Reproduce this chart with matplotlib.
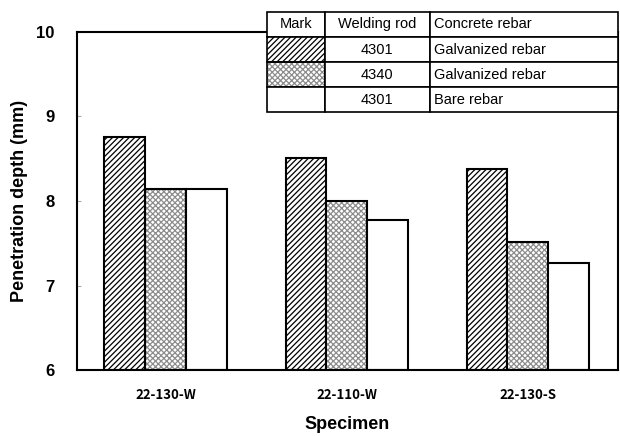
import numpy as np
import matplotlib.pyplot as plt
from matplotlib.patches import Rectangle

specimens = ['22-130-W', '22-110-W', '22-130-S']
rod_4301_galv = [8.76, 8.51, 8.38]
rod_4340_galv = [8.14, 8.00, 7.52]
rod_4301_bare = [8.14, 7.78, 7.27]

table_rows = [['Mark', 'Welding rod', 'Concrete rebar'],
              ['', '4301', 'Galvanized rebar'],
              ['', '4340', 'Galvanized rebar'],
              ['', '4301', 'Bare rebar']]

plt.rcParams['font.family'] = ['Liberation Sans', 'DejaVu Sans']
plt.rcParams['hatch.linewidth'] = 0.9

fig = plt.figure(figsize=(6.2, 4.36), dpi=100)
ax = fig.add_axes([0.124, 0.151, 0.873, 0.776])

slash = '//////'
cross = 'xxxxxx'
grey = '#8c8c8c'

x = np.arange(len(specimens))
w = 0.225
ax.bar(x - w, np.array(rod_4301_galv) - 6, w, bottom=6, color='white',
       edgecolor='black', hatch=slash, linewidth=1.5)
# grey crosshatch, then black outline on top
ax.bar(x, np.array(rod_4340_galv) - 6, w, bottom=6, color='white',
       edgecolor=grey, hatch=cross, linewidth=0)
ax.bar(x, np.array(rod_4340_galv) - 6, w, bottom=6, color='none',
       edgecolor='black', linewidth=1.5)
ax.bar(x + w, np.array(rod_4301_bare) - 6, w, bottom=6, color='white',
       edgecolor='black', linewidth=1.5)

ax.set_ylim(6, 10)
ax.set_xlim(-0.49, 2.5)
ax.set_yticks([6, 7, 8, 9, 10])
ax.set_yticklabels(['6', '7', '8', '9', '10'], fontsize=12, fontweight='bold')
ax.set_xticks(x)
ax.set_xticklabels(specimens, fontsize=9.5, fontweight='bold',
                   family=['Noto Sans CJK KR', 'DejaVu Sans'])
ax.tick_params(axis='x', length=0, pad=13)
ax.tick_params(axis='y', length=3, direction='in', pad=16, color='#aaaaaa')
for s in ax.spines.values():
    s.set_linewidth(1.5)

ax.set_ylabel('Penetration depth (mm)', fontsize=13, fontweight='bold', labelpad=6)
ax.set_xlabel('Specimen', fontsize=13, fontweight='bold', labelpad=10)

tb = [0.351, 0.762, 0.649, 0.297]
cw = [0.165, 0.299, 0.536]
tbl = ax.table(cellText=table_rows, colWidths=cw, bbox=tb, zorder=5)
tbl.auto_set_font_size(False)
tbl.set_fontsize(10.5)
for (r, c), cell in tbl.get_celld().items():
    cell.set_linewidth(1.2)
    cell.set_facecolor('white')
    cell.get_text().set_ha('left' if c == 2 else 'center')
    if c == 2:
        cell.PAD = 0.02
tbl[1, 0].set_hatch(slash)
tbl[2, 0].set_facecolor('none')
tbl[0, 0].get_text().set_ha('center')

# grey crosshatch behind the second mark cell
rh = tb[3] / 4
cell_w = tb[2] * cw[0] / sum(cw)
ax.add_patch(Rectangle((tb[0], tb[1] + rh), cell_w, rh, transform=ax.transAxes,
                       facecolor='white', edgecolor=grey, hatch=cross,
                       linewidth=0, zorder=4.5, clip_on=False))

fig.savefig('out.png', dpi=100)
